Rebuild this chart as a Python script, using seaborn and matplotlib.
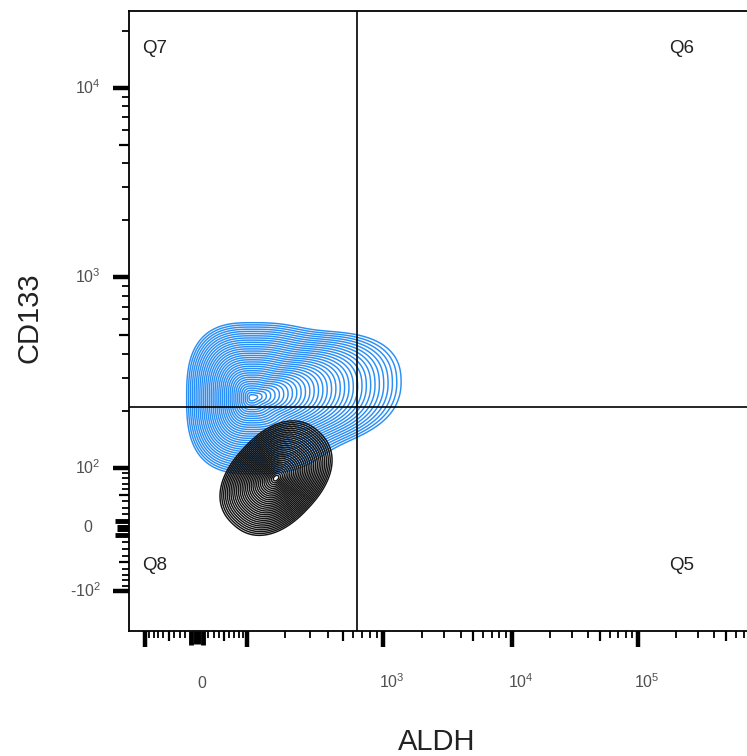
import numpy as np
import matplotlib
matplotlib.use("Agg")
import matplotlib.pyplot as plt
from matplotlib.ticker import FixedLocator, NullFormatter, NullLocator
import seaborn as sns

# --- biexponential-like axis calibration (value -> channel)
ALDH_CAL = [-100, 0, 100, 200, 300, 500, 1000, 1e4, 1e5]
ALDH_CAL_CH = [145, 197, 247, 285, 310, 343, 383, 512, 638]
CD133_CAL = [-100, 0, 100, 200, 500, 1000, 1e4]
CD133_CAL_CH = [40, 103, 163, 220.5, 296.5, 354, 543]

# --- quadrant gate
ALDH_GATE = 640
CD133_GATE = 210
QUAD_NAMES = ["Q7", "Q6", "Q8", "Q5"]

# --- tick values
X_MAJOR = [-100, 0, 100, 1000, 1e4, 1e5]
X_LABELS = [None, "0", None, r"$10^{3}$", r"$10^{4}$", r"$10^{5}$"]
Y_MAJOR = [-100, 0, 100, 1000, 1e4]
Y_LABELS = [r"-$10^{2}$", "0", r"$10^{2}$", r"$10^{3}$", r"$10^{4}$"]
NEAR_ZERO = [-10, 10]
MID = [-50, 50, 500, 5000, 5e4, 5e5]
MINOR = ([-90, -80, -70, -60, -40, -30, -20, 20, 30, 40, 60, 70, 80, 90]
         + [200, 300, 400, 600, 700, 800, 900]
         + [2e3, 3e3, 4e3, 6e3, 7e3, 8e3, 9e3]
         + [2e4, 3e4, 4e4, 6e4, 7e4, 8e4, 9e4]
         + [2e5, 3e5, 4e5, 6e5, 7e5, 8e5, 9e5])

# --- populations (centre in ALDH / CD133 units, spread in display channels)
CTRL_CENTER = (172, 80)          # black population
CTRL_AXES = (63, 44)             # major, minor half-length
CTRL_ANGLE = 47
CD133_CENTER = (110, 235)        # blue population peak
CD133_HALF = (65, 85, 75, 76)    # left, right, up, down
CD133_SHOULDER = (7, 0.48, 0.76)  # direction (deg), width (rad), stretch

C_ASINH = 100.0


def make_scale(vals, chans):
    u = np.arcsinh(np.asarray(vals, float) / C_ASINH)
    c = np.asarray(chans, float)
    s_lo = (c[1] - c[0]) / (u[1] - u[0])
    s_hi = (c[-1] - c[-2]) / (u[-1] - u[-2])

    def fwd(v):
        uu = np.arcsinh(np.asarray(v, float) / C_ASINH)
        out = np.interp(uu, u, c)
        out = np.where(uu < u[0], c[0] + (uu - u[0]) * s_lo, out)
        return np.where(uu > u[-1], c[-1] + (uu - u[-1]) * s_hi, out)

    def inv(ch):
        ch = np.asarray(ch, float)
        uu = np.interp(ch, c, u)
        uu = np.where(ch < c[0], u[0] + (ch - c[0]) / s_lo, uu)
        uu = np.where(ch > c[-1], u[-1] + (ch - c[-1]) / s_hi, uu)
        return np.sinh(uu) * C_ASINH

    return fwd, inv


xf, xi = make_scale(ALDH_CAL, ALDH_CAL_CH)
yf, yi = make_scale(CD133_CAL, CD133_CAL_CH)

sns.set_style("ticks")
plt.rcParams["font.family"] = ["Liberation Sans", "DejaVu Sans"]
plt.rcParams["mathtext.fontset"] = "custom"
plt.rcParams["mathtext.rm"] = "Liberation Sans"
plt.rcParams["mathtext.it"] = "Liberation Sans"

fig = plt.figure(figsize=(7.47, 7.56), dpi=100)
ax = fig.add_axes([129 / 747, 125 / 756, 631 / 747, 620 / 756])
ax.set_xscale("function", functions=(xf, xi))
ax.set_yscale("function", functions=(yf, yi))
ax.set_xlim(float(xi(129)), float(xi(760)))
ax.set_ylim(float(yi(0)), float(yi(620)))

# density fields on a channel grid
gx = np.arange(129, 761, 1.0)
gy = np.arange(0, 621, 1.0)
GX, GY = np.meshgrid(gx, gy)


def superellipse(dx, dy, a, b, p):
    return (np.abs(dx / a) ** p + np.abs(dy / b) ** p) ** (1 / p)


# blue population: rounded body with a shoulder towards high ALDH
cx, cy = float(xf(CD133_CENTER[0])), float(yf(CD133_CENTER[1]))
dx, dy = GX - cx, GY - cy
ax_ = np.where(dx < 0, CD133_HALF[0], CD133_HALF[1])
by_ = np.where(dy > 0, CD133_HALF[2], CD133_HALF[3])
r_body = superellipse(dx, dy, ax_, by_, 2.8)
theta = np.arctan2(dy, dx)
th0, width, stretch = np.deg2rad(CD133_SHOULDER[0]), CD133_SHOULDER[1], CD133_SHOULDER[2]
bump = np.exp(-np.abs((theta - th0) / width) ** 2.4)
d_blue = r_body / (1 + stretch * bump)

# black population: tilted ellipse
kx, ky = float(xf(CTRL_CENTER[0])), float(yf(CTRL_CENTER[1]))
th = np.deg2rad(CTRL_ANGLE)
du = (GX - kx) * np.cos(th) + (GY - ky) * np.sin(th)
dv = -(GX - kx) * np.sin(th) + (GY - ky) * np.cos(th)
d_black = superellipse(du, dv, *CTRL_AXES, 2.3)

XV, YV = xi(gx), yi(gy)
ax.contour(XV, YV, d_blue, levels=np.linspace(0.04, 1.0, 34),
           colors="#2b8ef5", linewidths=1.05, zorder=2)
ax.contour(XV, YV, d_black, levels=np.linspace(0.05, 1.0, 30),
           colors="#141414", linewidths=1.05, zorder=2)

# quadrant gate
ax.axvline(ALDH_GATE, color="black", lw=1.2, zorder=3)
ax.axhline(CD133_GATE, color="black", lw=1.2, zorder=3)

qkw = dict(transform=ax.transAxes, fontsize=13.5, color="#222222")
ax.text(0.021, 0.953, QUAD_NAMES[0], ha="left", va="top", **qkw)
ax.text(0.856, 0.953, QUAD_NAMES[1], ha="left", va="top", **qkw)
ax.text(0.021, 0.119, QUAD_NAMES[2], ha="left", va="top", **qkw)
ax.text(0.856, 0.119, QUAD_NAMES[3], ha="left", va="top", **qkw)

# spines and ticks
for s in ["left", "bottom", "top"]:
    ax.spines[s].set_linewidth(1.3)
    ax.spines[s].set_color("black")
ax.spines["right"].set_visible(False)
ax.tick_params(which="both", direction="out", color="black")


def style_axis(axis, major):
    locs = list(major) + NEAR_ZERO + MID + MINOR
    axis.set_major_locator(FixedLocator(locs))
    axis.set_major_formatter(NullFormatter())
    axis.set_minor_locator(NullLocator())
    ticks = axis.get_major_ticks(len(locs))
    for t, v in zip(ticks, locs):
        if v == 0:
            size, width = 9, 5
        elif v in major:
            size, width = 11.5, 3.2
        elif v in NEAR_ZERO:
            size, width = 10, 3.5
        elif v in MID:
            size, width = 7.5, 1.6
        else:
            size, width = 5, 1.3
        t.tick1line.set_markersize(size)
        t.tick1line.set_markeredgewidth(width)


style_axis(ax.xaxis, X_MAJOR)
style_axis(ax.yaxis, Y_MAJOR)

for v, lab in zip(X_MAJOR, X_LABELS):
    if lab is None:
        continue
    ax.annotate(lab, xy=(v, 0), xycoords=ax.get_xaxis_transform(),
                xytext=(-4 if "^" in lab else 0, -57), textcoords="offset pixels",
                ha="left", va="baseline", fontsize=11.5, color="#505050",
                annotation_clip=False)
for v, lab in zip(Y_MAJOR, Y_LABELS):
    ax.annotate(lab, xy=(0, v), xycoords=ax.get_yaxis_transform(),
                xytext=(-28 if "^" in lab else -37, 0), textcoords="offset pixels",
                ha="right", va="center", fontsize=11.5, color="#505050",
                annotation_clip=False)

ax.set_xlabel("ALDH", fontsize=21, color="#222222", va="baseline")
ax.xaxis.set_label_coords(0.488, -0.192)
ax.set_ylabel("CD133", fontsize=21, color="#222222", ha="center", va="center",
              rotation_mode="default")
ax.yaxis.set_label_coords(-0.158, 0.505)

fig.savefig("out.png", dpi=100)
